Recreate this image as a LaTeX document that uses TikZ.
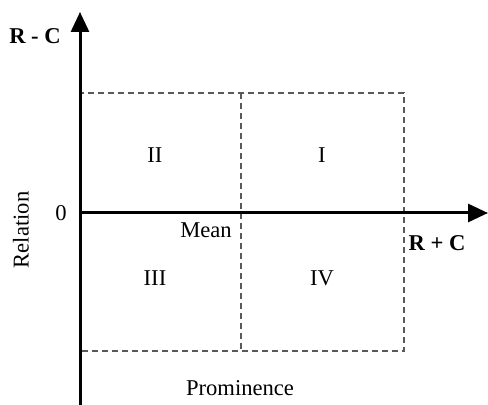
\documentclass[tikz,border=0pt]{standalone}
\usepackage{fontspec}
\setmainfont{Liberation Serif}
\usepackage{tikz}
\usetikzlibrary{arrows.meta, positioning}

\tikzset{
  axis/.style={line width=1.5pt, -{Triangle[length=10pt, width=9pt]}},
  quad/.style={draw=black!65, line width=0.6pt, dash pattern=on 3pt off 2pt},
  lbl/.style={font=\fontsize{11.3}{13}\selectfont, inner sep=0pt},
  blbl/.style={font=\fontsize{11.3}{13}\selectfont\bfseries, inner sep=0pt}
}

\begin{document}
\begin{tikzpicture}[x=0.5pt, y=-0.5pt]
  \useasboundingbox (0,0) rectangle (488,405);
  % axes
  \coordinate (origin) at (80,213);
  \coordinate (ybot) at (80,405);
  \coordinate (ytip) at (80,12);
  \coordinate (xtip) at (488,213);
  % quadrant box
  \coordinate (tl) at (80,93);
  \coordinate (br) at (404,351);
  \coordinate (mtop) at (241,93);
  \coordinate (mbot) at (241,351);
  \draw[quad] (tl) rectangle (br);
  \draw[quad] (mtop) -- (mbot);
  \draw[axis] (ybot) -- (ytip);
  \draw[axis] (origin) -- (xtip);
  % labels
  \node[blbl] (rminus) at (35,36) {R - C};
  \node[blbl] (rplus) at (437,243) {R + C};
  \node[lbl] (zero) at (61,213) {0};
  \node[lbl, rotate=90] (relation) at (21,230) {Relation};
  \node[lbl] (mean) at (206,230) {Mean};
  \node[lbl] (qII) at (155,155) {II};
  \node[lbl] (qI) at (322,155) {I};
  \node[lbl] (qIII) at (155,278) {III};
  \node[lbl] (qIV) at (322,278) {IV};
  \node[lbl] (prom) at (240,388) {Prominence};
\end{tikzpicture}
\end{document}
